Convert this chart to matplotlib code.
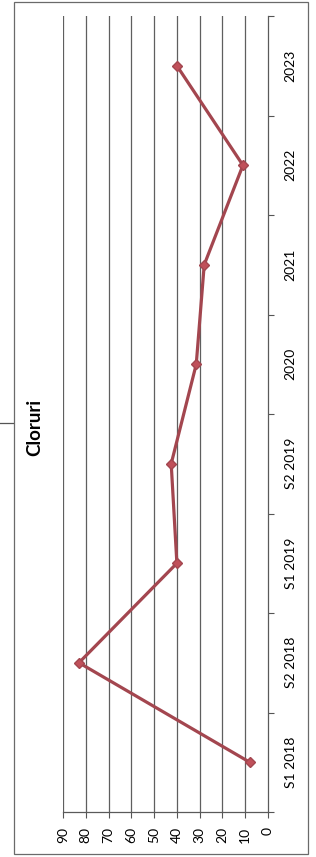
import numpy as np
import matplotlib
matplotlib.use("Agg")
import matplotlib.pyplot as plt
from matplotlib.patches import Rectangle
from matplotlib.lines import Line2D

categories = ["S1 2018", "S2 2018", "S1 2019", "S2 2019", "2020", "2021", "2022", "2023"]
values = [8, 83, 40, 42.5, 31.5, 28, 11, 40]
value_ticks = [0, 10, 20, 30, 40, 50, 60, 70, 80, 90]
title = "Cloruri"

plt.rcParams['font.family'] = ['Lato', 'DejaVu Sans']

W, H = 316, 857
fig = plt.figure(figsize=(W / 100, H / 100), dpi=100)

# outer chart frame
fig.patches.append(Rectangle((14 / W, 1 - 854 / H), (308 - 14) / W, (854 - 2) / H,
                             transform=fig.transFigure, fill=False,
                             edgecolor="#6a6a6a", linewidth=0.9))
fig.lines.append(Line2D([0, 13 / W], [1 - 423 / H, 1 - 423 / H],
                        transform=fig.transFigure, color="#555555", linewidth=0.9))

ax = fig.add_axes([63 / W, 1 - 812 / H, (268 - 63) / W, (812 - 16) / H])

pos = np.arange(len(categories))
ax.plot(values, pos, color="#a3464f", linewidth=2.3, marker="D",
        markersize=5.5, markerfacecolor="#c0505a", markeredgecolor="#a3464f",
        zorder=3)

ax.set_xlim(90, 0)
ax.set_ylim(-0.5, len(categories) - 0.5)

# value axis (bottom, rotated labels)
ax.set_xticks(value_ticks)
ax.set_xticklabels([str(v) for v in value_ticks], rotation=90, fontsize=10)
ax.tick_params(axis="x", direction="out", length=4, width=0.8, color="#555555", pad=6.5)
for v in value_ticks[1:]:
    ax.axvline(v, color="#5f5f5f", linewidth=0.9, zorder=1)

# category axis on the right
ax.yaxis.tick_right()
ax.set_yticks(pos)
ax.set_yticklabels(categories, rotation=90, va="center", fontsize=10)
ax.set_yticks(np.arange(len(categories) + 1) - 0.5, minor=True)
ax.tick_params(axis="y", which="major", length=0, pad=12)
ax.tick_params(axis="y", which="minor", direction="out", length=4, width=0.8,
               color="#555555", right=True, left=False)

for side in ["top", "left"]:
    ax.spines[side].set_visible(False)
ax.spines["bottom"].set_color("#5a5a5a")
ax.spines["right"].set_color("#5a5a5a")
ax.spines["bottom"].set_linewidth(0.9)
ax.spines["right"].set_linewidth(0.9)

fig.text(35 / W, 1 - 427 / H, title, rotation=90, ha="center", va="center",
         fontsize=13.5, fontweight="bold")

fig.savefig("out.png", dpi=100)
